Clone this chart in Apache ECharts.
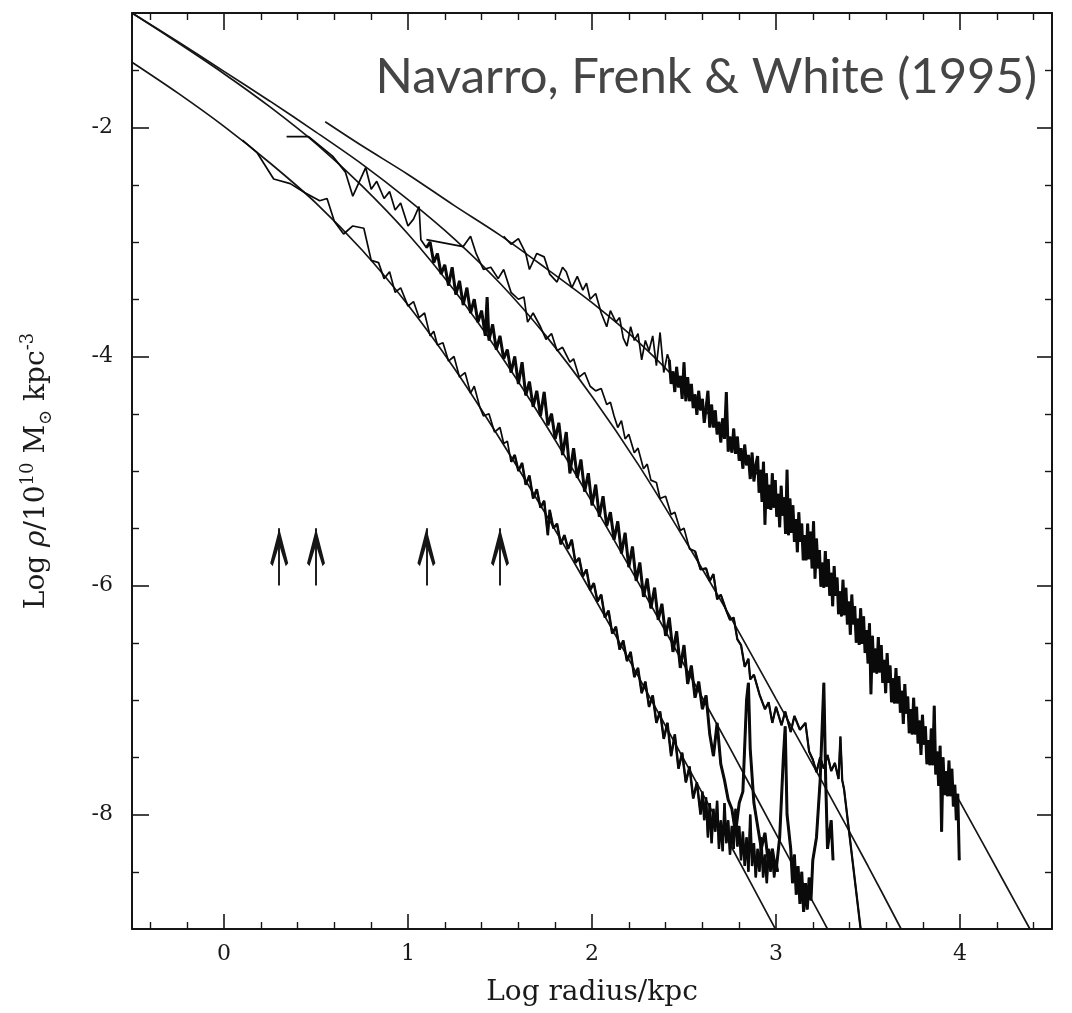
<!DOCTYPE html>
<html><head><meta charset="utf-8">
<script src="https://cdn.jsdelivr.net/npm/echarts/dist/echarts.min.js"></script>
<style>html,body{margin:0;padding:0;background:#fff}#c{width:1072px;height:1013px}</style>
</head><body><div id="c"></div>
<script>
// ---- tick labels ----
const xLabels = [0, 1, 2, 3, 4];
const yLabels = [-8, -6, -4, -2];
// ---- arrows (log radius of marked scales) ----
const arrowX = [0.3, 0.5, 1.1, 1.5];
const arrowFrom = -6.0, arrowTo = -5.5;
// ---- fitted profiles [log r, log rho] ----
const fit1 = [[-0.5,-1.43],[-0.25,-1.70],[0,-1.99],[0.25,-2.31],[0.5,-2.66],[0.75,-3.07],[1.0,-3.55],[1.25,-4.10],[1.5,-4.72],[1.75,-5.38],[2.0,-6.07],[2.25,-6.79],[2.5,-7.52],[2.75,-8.26],[3.0,-9.01]];
const fit2 = [[-0.5,-1.00],[-0.25,-1.26],[0,-1.53],[0.25,-1.82],[0.5,-2.14],[0.75,-2.51],[1.0,-2.93],[1.25,-3.42],[1.5,-3.98],[1.75,-4.60],[2.0,-5.27],[2.25,-5.97],[2.5,-6.69],[2.75,-7.42],[3.0,-8.17],[3.25,-8.91],[3.28,-9.0]];
const fit3 = [[-0.5,-1.00],[-0.25,-1.25],[0,-1.51],[0.25,-1.77],[0.5,-2.04],[0.75,-2.32],[1.0,-2.63],[1.25,-2.97],[1.5,-3.36],[1.75,-3.82],[2.0,-4.35],[2.25,-4.94],[2.5,-5.59],[2.75,-6.27],[3.0,-6.99],[3.25,-7.71],[3.5,-8.45],[3.68,-9.0]];
const fit4 = [[0.55,-1.95],[0.75,-2.16],[1.0,-2.41],[1.25,-2.68],[1.5,-2.94],[1.75,-3.23],[2.0,-3.53],[2.25,-3.87],[2.5,-4.27],[2.75,-4.72],[3.0,-5.25],[3.25,-5.84],[3.5,-6.49],[3.75,-7.18],[4.0,-7.89],[4.25,-8.62],[4.38,-9.0]];
// ---- simulated halo profiles ----
const halo1 = [[0.10,-2.11],[0.18,-2.22],[0.27,-2.45],[0.36,-2.49],[0.44,-2.57],[0.52,-2.64],[0.56,-2.62],[0.60,-2.82],[0.65,-2.93],[0.70,-2.86],[0.76,-2.88],[0.80,-3.16],[0.84,-3.18],[0.87,-3.32],[0.90,-3.26],[0.93,-3.44],[0.96,-3.40],[1.00,-3.56],[1.03,-3.52],[1.06,-3.66],[1.09,-3.62],[1.12,-3.82],[1.14,-3.78],[1.16,-3.90],[1.19,-3.88],[1.22,-4.04],[1.25,-4.00],[1.28,-4.18],[1.31,-4.14],[1.34,-4.32],[1.36,-4.26],[1.39,-4.44],[1.41,-4.52],[1.44,-4.50],[1.47,-4.66],[1.50,-4.62],[1.52,-4.76],[1.54,-4.74],[1.56,-4.92],[1.58,-4.86],[1.60,-5.00],[1.62,-4.93],[1.64,-5.12],[1.66,-5.04],[1.68,-5.24],[1.70,-5.16],[1.72,-5.32],[1.74,-5.26],[1.76,-5.56],[1.77,-5.34],[1.79,-5.50],[1.81,-5.46],[1.83,-5.64],[1.85,-5.56],[1.87,-5.68],[1.89,-5.60],[1.91,-5.80],[1.93,-5.76],[1.95,-5.92],[1.97,-5.86],[1.99,-6.04],[2.01,-5.98],[2.03,-6.14],[2.05,-6.08],[2.07,-6.28],[2.09,-6.22],[2.11,-6.42],[2.13,-6.36],[2.15,-6.56],[2.17,-6.48],[2.19,-6.66],[2.21,-6.58],[2.23,-6.80],[2.25,-6.72],[2.27,-6.94],[2.29,-6.84],[2.31,-7.06],[2.33,-6.96],[2.35,-7.20],[2.37,-7.10],[2.39,-7.34],[2.41,-7.20],[2.43,-7.49],[2.45,-7.30],[2.47,-7.60],[2.49,-7.46],[2.51,-7.72],[2.53,-7.58],[2.55,-7.86],[2.57,-7.72],[2.59,-8.00],[2.60,-7.80],[2.61,-8.05],[2.62,-7.85],[2.63,-8.20],[2.64,-7.90],[2.65,-8.25],[2.66,-7.95],[2.67,-8.15],[2.68,-7.88],[2.69,-8.30],[2.70,-8.05],[2.71,-8.32],[2.72,-7.90],[2.73,-8.25],[2.74,-8.05],[2.75,-8.35],[2.76,-8.10],[2.77,-8.30],[2.78,-7.95],[2.79,-8.28],[2.80,-8.10],[2.81,-8.40],[2.82,-8.15],[2.83,-8.45],[2.84,-8.20],[2.85,-8.50],[2.86,-8.00],[2.87,-8.45],[2.88,-8.25],[2.89,-8.55],[2.90,-8.30],[2.91,-8.50],[2.92,-8.20],[2.93,-8.55],[2.94,-8.35],[2.95,-8.60],[2.96,-8.30],[2.97,-8.50],[2.98,-8.35],[2.99,-8.55],[3.00,-8.40],[3.01,-8.50]];
const halo2 = [[0.34,-2.08],[0.46,-2.08],[0.59,-2.25],[0.66,-2.39],[0.70,-2.60],[0.77,-2.35],[0.80,-2.54],[0.83,-2.47],[0.87,-2.62],[0.90,-2.56],[0.93,-2.72],[0.96,-2.66],[1.00,-2.86],[1.03,-2.80],[1.06,-2.69],[1.07,-2.98],[1.10,-3.05],[1.12,-3.00],[1.14,-3.18],[1.16,-3.10],[1.18,-3.28],[1.20,-3.20],[1.22,-3.38],[1.24,-3.22],[1.26,-3.46],[1.28,-3.34],[1.30,-3.55],[1.32,-3.40],[1.34,-3.62],[1.36,-3.50],[1.38,-3.70],[1.40,-3.60],[1.42,-3.82],[1.43,-3.48],[1.44,-3.86],[1.46,-3.72],[1.48,-3.94],[1.50,-3.82],[1.52,-4.02],[1.54,-3.94],[1.56,-4.14],[1.58,-4.00],[1.60,-4.24],[1.62,-4.05],[1.64,-4.34],[1.66,-4.22],[1.68,-4.44],[1.70,-4.30],[1.72,-4.52],[1.74,-4.31],[1.76,-4.60],[1.78,-4.50],[1.80,-4.72],[1.82,-4.58],[1.84,-4.86],[1.86,-4.66],[1.88,-5.02],[1.90,-4.80],[1.92,-5.06],[1.94,-4.90],[1.96,-5.18],[1.98,-5.02],[2.00,-5.30],[2.02,-5.12],[2.04,-5.40],[2.06,-5.22],[2.08,-5.48],[2.10,-5.36],[2.12,-5.60],[2.14,-5.44],[2.16,-5.72],[2.18,-5.54],[2.20,-5.84],[2.22,-5.66],[2.24,-5.96],[2.26,-5.80],[2.28,-6.10],[2.30,-5.94],[2.32,-6.20],[2.34,-6.02],[2.36,-6.30],[2.38,-6.16],[2.40,-6.44],[2.42,-6.28],[2.44,-6.58],[2.46,-6.40],[2.48,-6.72],[2.50,-6.52],[2.52,-6.86],[2.54,-6.70],[2.56,-6.98],[2.58,-6.84],[2.60,-7.08],[2.62,-6.96],[2.64,-7.30],[2.66,-7.49],[2.68,-7.20],[2.70,-7.56],[2.72,-7.70],[2.74,-7.87],[2.76,-7.95],[2.78,-8.16],[2.80,-7.90],[2.82,-7.80],[2.84,-7.00],[2.85,-6.85],[2.86,-7.43],[2.88,-7.90],[2.90,-8.10],[2.92,-8.30],[2.94,-8.16],[2.96,-8.45],[2.98,-8.30],[3.00,-8.50],[3.02,-8.20],[3.04,-7.50],[3.05,-7.23],[3.06,-8.00],[3.08,-8.30],[3.09,-8.60],[3.10,-8.35],[3.11,-8.70],[3.12,-8.45],[3.13,-8.78],[3.14,-8.50],[3.15,-8.85],[3.16,-8.60],[3.17,-8.83],[3.18,-8.55],[3.19,-8.75],[3.20,-8.40],[3.22,-8.20],[3.24,-7.70],[3.26,-6.85],[3.27,-7.70],[3.28,-8.30],[3.30,-8.05],[3.31,-8.40]];
const halo3 = [[1.10,-2.98],[1.30,-3.04],[1.34,-2.95],[1.37,-3.10],[1.41,-3.24],[1.45,-3.22],[1.49,-3.32],[1.52,-3.24],[1.56,-3.44],[1.60,-3.50],[1.63,-3.48],[1.65,-3.70],[1.68,-3.62],[1.72,-3.74],[1.75,-3.85],[1.78,-3.80],[1.81,-3.95],[1.84,-3.92],[1.88,-4.05],[1.90,-4.02],[1.93,-4.18],[1.96,-4.14],[1.99,-4.26],[2.02,-4.30],[2.05,-4.28],[2.08,-4.42],[2.10,-4.40],[2.12,-4.52],[2.14,-4.62],[2.16,-4.56],[2.18,-4.72],[2.20,-4.68],[2.23,-4.84],[2.25,-4.80],[2.28,-4.98],[2.30,-4.94],[2.32,-5.08],[2.35,-5.10],[2.37,-5.24],[2.40,-5.22],[2.43,-5.38],[2.45,-5.36],[2.48,-5.52],[2.50,-5.50],[2.53,-5.68],[2.56,-5.70],[2.59,-5.86],[2.62,-5.85],[2.64,-5.96],[2.66,-5.90],[2.68,-6.12],[2.70,-6.08],[2.73,-6.22],[2.75,-6.30],[2.77,-6.28],[2.79,-6.47],[2.81,-6.52],[2.83,-6.71],[2.85,-6.64],[2.86,-6.82],[2.88,-6.78],[2.91,-6.95],[2.94,-7.08],[2.96,-7.02],[2.98,-7.20],[3.00,-7.06],[3.03,-7.22],[3.05,-7.10],[3.08,-7.28],[3.10,-7.14],[3.13,-7.26],[3.16,-7.20],[3.18,-7.45],[3.20,-7.52],[3.22,-7.63],[3.24,-7.50],[3.26,-7.60],[3.28,-7.48],[3.30,-7.62],[3.32,-7.55],[3.34,-7.69],[3.35,-7.32],[3.36,-7.70],[3.37,-7.78],[3.46,-9.0]];
const halo4 = [[1.52,-2.95],[1.56,-3.02],[1.60,-2.97],[1.64,-3.10],[1.66,-3.24],[1.70,-3.10],[1.74,-3.13],[1.77,-3.28],[1.81,-3.35],[1.84,-3.22],[1.86,-3.26],[1.89,-3.40],[1.92,-3.30],[1.95,-3.42],[1.97,-3.36],[1.99,-3.50],[2.02,-3.45],[2.05,-3.62],[2.08,-3.74],[2.10,-3.60],[2.13,-3.70],[2.15,-3.66],[2.17,-3.84],[2.19,-3.91],[2.21,-3.74],[2.23,-3.86],[2.25,-3.80],[2.27,-4.03],[2.29,-3.86],[2.31,-3.95],[2.33,-3.82],[2.35,-4.08],[2.37,-3.79],[2.39,-4.14],[2.41,-3.98],
[2.42,-4.03],[2.43,-4.24],[2.44,-4.13],[2.45,-4.31],[2.46,-4.09],[2.47,-4.27],[2.48,-4.17],[2.49,-4.37],[2.50,-4.05],[2.51,-4.39],[2.52,-4.18],[2.53,-4.39],[2.54,-4.24],[2.55,-4.45],[2.56,-4.33],[2.57,-4.51],[2.58,-4.30],[2.59,-4.47],[2.60,-4.37],[2.61,-4.58],[2.62,-4.45],[2.63,-4.30],[2.64,-4.62],[2.65,-4.42],[2.66,-4.62],[2.67,-4.47],[2.68,-4.68],[2.69,-4.57],[2.70,-4.75],[2.71,-4.54],[2.72,-4.72],[2.73,-4.31],[2.74,-4.83],[2.75,-4.70],[2.76,-4.84],[2.77,-4.63],[2.78,-4.85],[2.79,-4.70],[2.80,-4.91],[2.81,-4.80],[2.82,-4.98],[2.83,-4.77],[2.84,-4.95],[2.85,-4.86],[2.86,-5.07],[2.87,-4.84],[2.88,-5.09],[2.89,-4.95],
[2.900,-4.87],[2.908,-5.19],[2.916,-4.99],[2.924,-5.27],[2.932,-4.92],[2.940,-5.47],[2.948,-5.02],[2.956,-5.33],[2.964,-5.12],[2.972,-5.34],[2.980,-5.02],[2.988,-5.32],[2.996,-5.08],[3.004,-5.40],[3.012,-5.20],[3.020,-5.49],[3.028,-5.13],[3.036,-5.39],[3.044,-5.23],[3.052,-5.55],[3.060,-4.99],[3.068,-5.56],[3.076,-5.24],[3.084,-5.54],[3.092,-5.30],[3.100,-5.62],[3.108,-5.42],[3.116,-5.71],[3.124,-5.36],[3.132,-5.62],[3.140,-5.46],[3.148,-5.78],[3.156,-5.56],[3.164,-5.78],[3.172,-5.46],[3.180,-5.77],[3.188,-5.53],[3.196,-5.85],[3.204,-5.44],[3.212,-5.94],[3.220,-5.59],[3.228,-5.85],[3.236,-5.69],[3.244,-6.01],[3.252,-5.80],[3.260,-6.02],[3.268,-5.70],[3.276,-6.01],[3.284,-5.77],[3.292,-6.09],[3.300,-5.89],[3.308,-6.18],[3.316,-5.83],[3.324,-6.09],[3.332,-5.93],[3.340,-6.25],[3.348,-6.05],[3.356,-6.27],[3.364,-5.95],[3.372,-6.26],[3.380,-6.02],[3.388,-6.34],[3.396,-6.14],[3.404,-6.43],[3.412,-6.08],[3.420,-6.34],[3.428,-6.18],[3.436,-6.50],[3.444,-6.29],[3.452,-6.52],[3.460,-6.20],[3.468,-6.51],[3.476,-6.27],[3.484,-6.59],[3.492,-6.39],[3.500,-6.68],[3.508,-6.33],[3.516,-6.95],[3.524,-6.44],[3.532,-6.76],[3.540,-6.55],[3.548,-6.77],[3.556,-6.45],[3.564,-6.76],[3.572,-6.52],[3.580,-6.85],[3.588,-6.65],[3.596,-6.94],[3.604,-6.59],[3.612,-6.85],[3.620,-6.70],[3.628,-7.02],[3.636,-6.81],[3.644,-7.03],[3.652,-6.72],[3.660,-7.03],[3.668,-6.79],[3.676,-7.11],[3.684,-6.92],[3.692,-7.21],[3.700,-6.86],[3.708,-7.12],[3.716,-6.97],[3.724,-7.29],[3.732,-7.08],[3.740,-7.30],[3.748,-6.98],[3.756,-7.30],[3.764,-7.06],[3.772,-7.38],[3.780,-7.18],[3.788,-7.48],[3.796,-7.13],[3.804,-7.39],[3.812,-7.23],[3.820,-7.56],[3.828,-7.35],[3.836,-7.57],[3.844,-7.25],[3.852,-7.57],[3.860,-7.05],[3.868,-7.65],[3.876,-7.45],[3.884,-7.75],[3.892,-7.40],[3.900,-8.15],[3.908,-7.50],[3.916,-7.83],[3.924,-7.62],[3.932,-7.84],[3.940,-7.53],[3.948,-7.84],[3.956,-7.60],[3.964,-7.93],[3.972,-7.74],[3.980,-8.05],[3.988,-7.82],[3.996,-8.40]];

const ink = '#161616';
const serif = 'DejaVu Serif';
// where each simulated profile becomes densely sampled (drawn heavier there), and line widths
const halos = [
  {data: halo1, denseFrom: 1.55, thin: 1.7, thick: 2.5},
  {data: halo2, denseFrom: 1.08, thin: 1.7, thick: 3.0},
  {data: halo3, denseFrom: 2.55, thin: 1.7, thick: 2.2},
  {data: halo4, denseFrom: 2.42, thin: 1.7, thick: 3.0}
];
const chart = echarts.init(document.getElementById('c'), null, {renderer: 'canvas'});

function frameX(pos, labels) {
  return {
    type: 'value', position: pos, min: -0.5, max: 4.5, splitNumber: 5,
    axisLine: {show: true, onZero: false, lineStyle: {color: ink, width: 2}},
    axisTick: {show: true, inside: true, length: pos === 'top' ? 17 : 15, lineStyle: {color: ink, width: 1.6}},
    minorTick: {show: true, splitNumber: 5, length: 7, lineStyle: {color: ink, width: 1.4}},
    splitLine: {show: false}, minorSplitLine: {show: false},
    axisLabel: {show: labels, margin: 14, color: '#1a1a1a', fontFamily: serif, fontSize: 22,
      formatter: v => xLabels.includes(v) ? String(v) : ''},
    name: labels ? 'Log radius/kpc' : '', nameLocation: 'middle', nameGap: 50,
    nameTextStyle: {color: '#1a1a1a', fontFamily: serif, fontSize: 28}
  };
}
function frameY(pos, labels) {
  return {
    type: 'value', position: pos, min: -9, max: -1, splitNumber: 4,
    axisLine: {show: true, onZero: false, lineStyle: {color: ink, width: 2}},
    axisTick: {show: true, inside: true, length: pos === 'left' ? 17 : 15, lineStyle: {color: ink, width: 1.6}},
    minorTick: {show: true, splitNumber: 4, length: 7, lineStyle: {color: ink, width: 1.4}},
    splitLine: {show: false}, minorSplitLine: {show: false},
    axisLabel: {show: labels, margin: 19, color: '#1a1a1a', fontFamily: serif, fontSize: 22,
      formatter: v => yLabels.includes(v) ? String(v) : ''},
    name: labels ? '{a|Log }{i|ρ}{a|/10}{s|10}{a| M}{b|⊙}{a| kpc}{s|-3}' : '',
    nameLocation: 'middle', nameRotate: 90, nameGap: 77,
    nameTextStyle: {
      color: '#1a1a1a', fontFamily: serif, fontSize: 28,
      rich: {
        a: {fontFamily: serif, fontSize: 28, lineHeight: 36, color: '#1a1a1a'},
        i: {fontFamily: serif, fontSize: 28, fontStyle: 'italic', lineHeight: 36, color: '#1a1a1a'},
        s: {fontFamily: serif, fontSize: 18, lineHeight: 18, verticalAlign: 'top', color: '#1a1a1a'},
        b: {fontFamily: serif, fontSize: 18, lineHeight: 18, verticalAlign: 'bottom', color: '#1a1a1a'}
      }
    }
  };
}

const fitSeries = [fit1, fit2, fit3, fit4].map(d => ({
  type: 'line', data: d, xAxisIndex: 0, yAxisIndex: 0, showSymbol: false, symbol: 'none',
  smooth: 0.3, silent: true, z: 3,
  lineStyle: {color: ink, width: 1.7}
}));
const haloSeries = [];
halos.forEach(h => {
  haloSeries.push({
    type: 'line', data: h.data, xAxisIndex: 0, yAxisIndex: 0, showSymbol: false, symbol: 'none',
    silent: true, z: 4, lineStyle: {color: '#0a0a0a', width: h.thin}
  });
  haloSeries.push({
    type: 'line', data: h.data.filter(p => p[0] >= h.denseFrom), xAxisIndex: 0, yAxisIndex: 0,
    showSymbol: false, symbol: 'none', silent: true, z: 4,
    lineStyle: {color: '#0a0a0a', width: h.thick}
  });
});
const arrowSeries = {
  type: 'line', data: [], xAxisIndex: 0, yAxisIndex: 0, silent: true, z: 5,
  markLine: {
    silent: true, animation: false,
    symbol: ['none', 'path://M9,0 L18,35 L15.5,38 L9,17 L2.5,38 L0,35 Z'],
    symbolSize: [18, 38],
    symbolOffset: [[0, 0], [0, 19]],
    label: {show: false},
    lineStyle: {color: ink, width: 1.9, type: 'solid'},
    data: arrowX.map(x => [{coord: [x, arrowFrom]}, {coord: [x, arrowTo]}])
  }
};

chart.setOption({
  animation: false,
  backgroundColor: '#ffffff',
  title: {
    text: 'Navarro, Frenk & White (1995)', right: 30, top: 48,
    textStyle: {fontFamily: 'Lato', fontSize: 49, fontWeight: 'normal', color: '#454545'}
  },
  grid: {left: 132, right: 20, top: 13, bottom: 84, containLabel: false},
  xAxis: [frameX('bottom', true), frameX('top', false)],
  yAxis: [frameY('left', true), frameY('right', false)],
  series: [...fitSeries, ...haloSeries, arrowSeries]
});
</script>
</body></html>
